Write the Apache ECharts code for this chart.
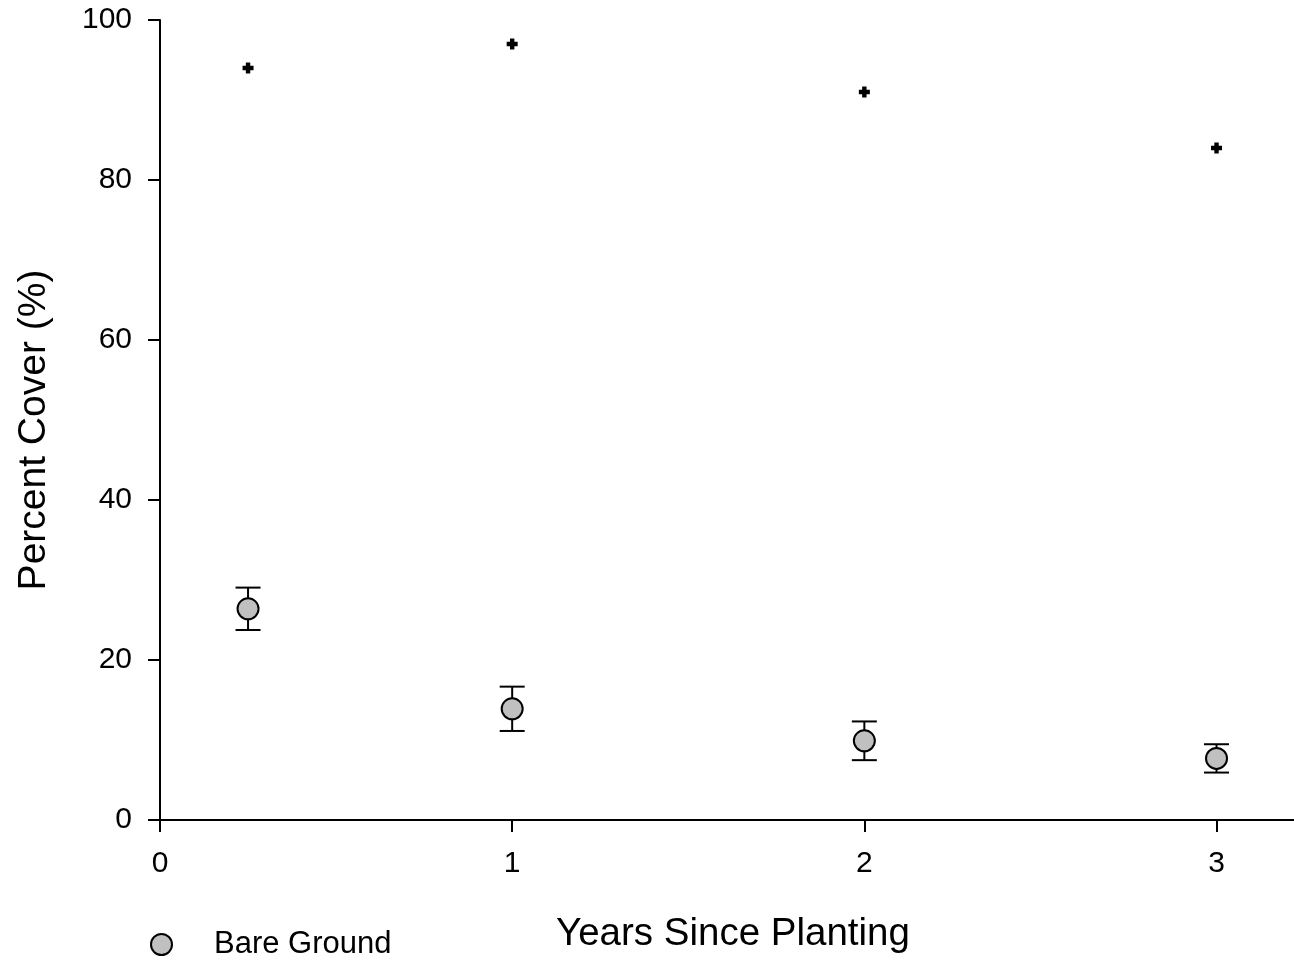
<!DOCTYPE html>
<html>
<head>
<meta charset="utf-8">
<script src="https://cdn.jsdelivr.net/npm/echarts@6/dist/echarts.min.js"></script>
<style>
html,body{margin:0;padding:0;background:#fff;}
#chart{width:1294px;height:960px;}
</style>
</head>
<body>
<div id="chart"></div>
<script>
var years = [0.25, 1, 2, 3];
var bareGround = [26.4, 13.9, 9.9, 7.7];
var bareGroundSE = [2.65, 2.77, 2.42, 1.77];
var otherCover = [94, 97, 91, 84];
var xTicks = [0, 1, 2, 3];
var yTicks = [0, 20, 40, 60, 80, 100];

var FONT = 'Liberation Sans, Arial, sans-serif';
var chart = echarts.init(document.getElementById('chart'));

var errData = years.map(function (x, i) {
  return [x, bareGround[i] - bareGroundSE[i], bareGround[i] + bareGroundSE[i]];
});
var bareData = years.map(function (x, i) { return [x, bareGround[i]]; });
var otherData = years.map(function (x, i) { return [x, otherCover[i]]; });

chart.setOption({
  animation: false,
  backgroundColor: '#fff',
  grid: { left: 160, top: 20, right: 0, bottom: 140, containLabel: false },
  legend: {
    data: ['Bare Ground'],
    left: 150, top: 929, padding: 0,
    itemWidth: 21, itemHeight: 21,
    icon: 'circle',
    textStyle: { fontFamily: FONT, fontSize: 31, color: '#000', padding: [0, 0, 0, 37] }
  },
  xAxis: {
    type: 'value', min: 0, max: 3.22, interval: 1,
    name: 'Years Since Planting', nameLocation: 'middle', nameGap: 95,
    nameTextStyle: { fontFamily: FONT, fontSize: 38.5, color: '#000', padding: [0, 0, 0, 12] },
    axisLine: { show: true, onZero: false, lineStyle: { color: '#000', width: 2 } },
    axisTick: { show: true, length: 12, lineStyle: { color: '#000', width: 2 }, customValues: xTicks },
    axisLabel: { fontFamily: FONT, fontSize: 30, color: '#000', margin: 29, customValues: xTicks },
    splitLine: { show: false }
  },
  yAxis: {
    type: 'value', min: 0, max: 100, interval: 20,
    name: 'Percent Cover (%)', nameLocation: 'middle', nameGap: 106, nameRotate: 90,
    nameTextStyle: { fontFamily: FONT, fontSize: 39, color: '#000', padding: [0, 20, 0, 0] },
    axisLine: { show: true, onZero: false, lineStyle: { color: '#000', width: 2 } },
    axisTick: { show: true, length: 12, lineStyle: { color: '#000', width: 2 }, customValues: yTicks },
    axisLabel: { fontFamily: FONT, fontSize: 30, color: '#000', margin: 28, customValues: yTicks },
    splitLine: { show: false }
  },
  series: [
    {
      type: 'custom',
      name: 'Bare Ground SE',
      data: errData,
      z: 1,
      renderItem: function (params, api) {
        var x = api.value(0);
        var lo = api.coord([x, api.value(1)]);
        var hi = api.coord([x, api.value(2)]);
        var hw = 12.5;
        var st = { stroke: '#000', lineWidth: 2 };
        return {
          type: 'group',
          children: [
            { type: 'line', shape: { x1: lo[0], y1: lo[1], x2: hi[0], y2: hi[1] }, style: st },
            { type: 'line', shape: { x1: hi[0] - hw, y1: hi[1], x2: hi[0] + hw, y2: hi[1] }, style: st },
            { type: 'line', shape: { x1: lo[0] - hw, y1: lo[1], x2: lo[0] + hw, y2: lo[1] }, style: st }
          ]
        };
      }
    },
    {
      type: 'scatter',
      name: 'Bare Ground',
      data: bareData,
      symbol: 'circle',
      symbolSize: 21,
      z: 3,
      itemStyle: { color: '#c0c0c0', borderColor: '#000', borderWidth: 2, opacity: 1 }
    },
    {
      type: 'scatter',
      name: 'Other',
      data: otherData,
      symbol: 'path://M3,0H7V3H10V7H7V10H3V7H0V3H3Z',
      symbolSize: 11,
      z: 3,
      itemStyle: { color: '#000', opacity: 1 }
    }
  ]
});
</script>
</body>
</html>
